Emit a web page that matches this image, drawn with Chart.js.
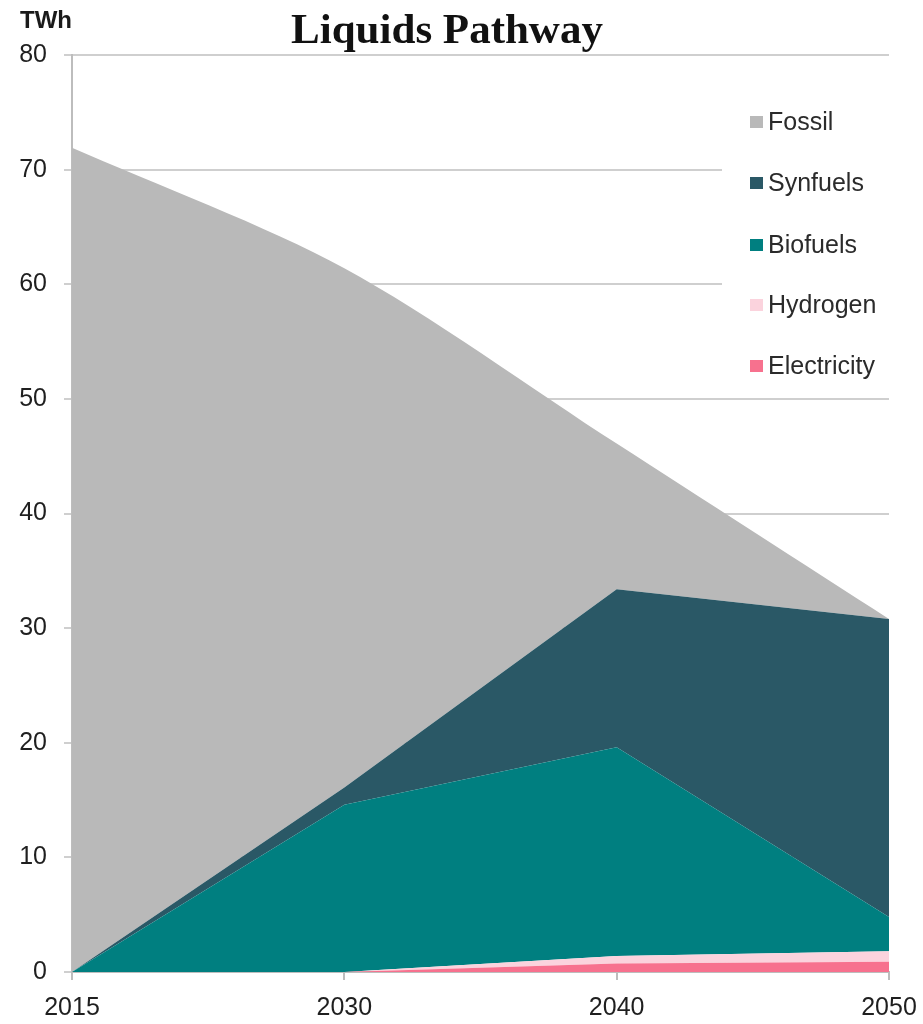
<!DOCTYPE html>
<html>
<head>
<meta charset="utf-8">
<script src="https://cdn.jsdelivr.net/npm/chart.js@4.4.1/dist/chart.umd.min.js"></script>
<style>
  html, body { margin: 0; padding: 0; background: #ffffff; }
  #wrap { width: 923px; height: 1024px; position: relative; }
</style>
</head>
<body>
<div id="wrap"><canvas id="c" width="923" height="1024"></canvas></div>
<script>
// ---- Data ----
const categories = ['2015', '2030', '2040', '2050'];
const electricity = [0, 0, 0.75, 0.9];
const hydrogen    = [0, 0, 0.65, 0.9];
const biofuels    = [0, 14.6, 18.2, 3.0];
const synfuels    = [0, 1.5, 13.8, 26.0];
const fossil      = [71.9, 45.3, 12.7, 0];
const yTicks      = [0, 10, 20, 30, 40, 50, 60, 70, 80];
const titleText   = 'Liquids Pathway';
const unitText    = 'TWh';

const colors = {
  Fossil: '#b9b9b9',
  Synfuels: '#2a5866',
  Biofuels: '#007f80',
  Hydrogen: '#fbd3dd',
  Electricity: '#f7718e'
};

const series = [
  { label: 'Electricity', data: electricity, tension: 0 },
  { label: 'Hydrogen', data: hydrogen, tension: 0 },
  { label: 'Biofuels', data: biofuels, tension: 0 },
  { label: 'Synfuels', data: synfuels, tension: 0 },
  { label: 'Fossil', data: fossil, tension: 0.3 }
];
const legendOrder = ['Fossil', 'Synfuels', 'Biofuels', 'Hydrogen', 'Electricity'];

const datasets = series.map((s, i) => ({
  label: s.label,
  data: s.data,
  backgroundColor: colors[s.label],
  borderColor: colors[s.label],
  borderWidth: 0,
  pointRadius: 0,
  fill: i === 0 ? 'origin' : '-1',
  tension: s.tension
}));

const overlay = {
  id: 'overlay',
  afterDatasetsDraw(chart) {
    const ctx = chart.ctx;
    ctx.save();
    // legend background (hides gridlines)
    ctx.fillStyle = '#ffffff';
    ctx.fillRect(722, 96, 170, 294);
    const ys = [122, 183, 245, 305, 366];
    ctx.font = '25px "Liberation Sans", Arial, sans-serif';
    ctx.textBaseline = 'middle';
    ctx.textAlign = 'left';
    legendOrder.forEach((name, i) => {
      ctx.fillStyle = colors[name];
      ctx.fillRect(750, ys[i] - 6, 13, 12);
      ctx.fillStyle = '#2b2b2b';
      ctx.fillText(name, 768, ys[i] + 1);
    });
    // title
    ctx.fillStyle = '#111111';
    ctx.font = 'bold 43px "Liberation Serif", "DejaVu Serif", serif';
    ctx.textAlign = 'center';
    ctx.textBaseline = 'alphabetic';
    ctx.fillText(titleText, 447, 43);
    // unit
    ctx.font = 'bold 24px "Liberation Sans", Arial, sans-serif';
    ctx.textAlign = 'left';
    ctx.fillStyle = '#1a1a1a';
    ctx.fillText(unitText, 20, 28);
    ctx.restore();
  }
};

new Chart(document.getElementById('c'), {
  type: 'line',
  data: { labels: categories, datasets },
  options: {
    responsive: false,
    animation: false,
    devicePixelRatio: 1,
    layout: { padding: { top: 55, right: 34, left: 0, bottom: 0 } },
    plugins: {
      legend: { display: false },
      title: { display: false },
      tooltip: { enabled: false },
      filler: { propagate: false }
    },
    elements: { line: { borderWidth: 0 } },
    scales: {
      x: {
        type: 'category',
        offset: false,
        grid: {
          display: true,
          drawOnChartArea: false,
          drawTicks: true,
          tickLength: 8,
          color: '#bdbdbd',
          lineWidth: 2
        },
        border: { display: true, color: '#bdbdbd', width: 2 },
        ticks: {
          color: '#1f1f1f',
          font: { family: '"Liberation Sans", Arial, sans-serif', size: 25 },
          padding: 13,
          maxRotation: 0
        },
        afterFit(scale) {
          scale.height = 52;
          scale.paddingLeft = 0;
          scale.paddingRight = 0;
        }
      },
      y: {
        stacked: true,
        min: 0,
        max: 80,
        afterBuildTicks(scale) { scale.ticks = yTicks.map(v => ({ value: v })); },
        grid: {
          color: '#cfcfcf',
          lineWidth: 2,
          drawTicks: true,
          tickLength: 8
        },
        border: { display: true, color: '#bdbdbd', width: 2 },
        ticks: {
          color: '#1f1f1f',
          font: { family: '"Liberation Sans", Arial, sans-serif', size: 25 },
          padding: 17
        },
        afterFit(scale) {
          scale.width = 72;
          scale.paddingTop = 0;
          scale.paddingBottom = 0;
        }
      }
    }
  },
  plugins: [overlay]
});
</script>
</body>
</html>
